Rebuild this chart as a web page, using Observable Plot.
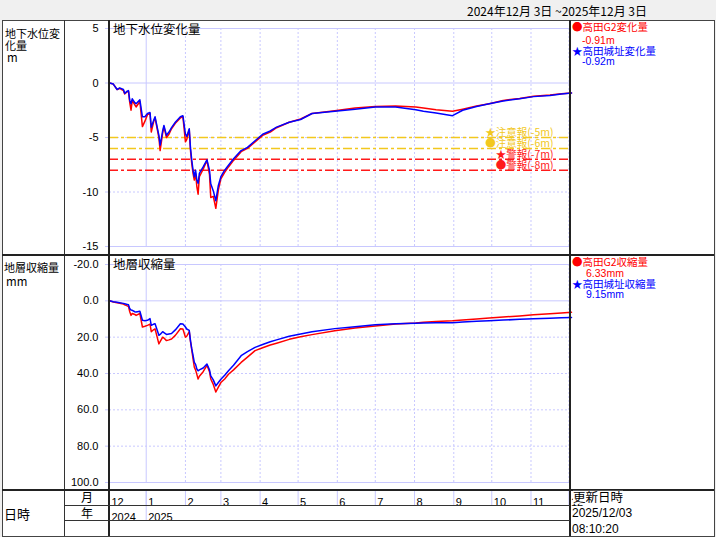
<!DOCTYPE html>
<html><head><meta charset="utf-8">
<script src="https://cdn.jsdelivr.net/npm/d3@7"></script>
<script src="https://cdn.jsdelivr.net/npm/@observablehq/plot@0.6"></script>
<style>
body{margin:0;background:#f0f0f0;}
#root{position:relative;width:716px;height:537px;background:#f0f0f0;font-family:"Noto Sans CJK JP",sans-serif;overflow:hidden;}
.box{position:absolute;left:2px;top:20px;width:711px;height:515px;background:#fff;border:1px solid #444;}
.t{position:absolute;white-space:nowrap;line-height:1;transform:translateY(-50%);}
.ln{position:absolute;background:#222;}
.p{position:absolute;}
</style></head><body><div id="root"><div class="box"></div></div>
<script>
// ---------- data ----------
const periodStart = "2024-12-03";
const periodEnd = "2025-12-03";
const obsDates = ["2024-12-03","2024-12-06","2024-12-09","2024-12-11","2024-12-14","2024-12-15","2024-12-17","2024-12-18","2024-12-19","2024-12-20",
"2024-12-21","2024-12-23","2024-12-24","2024-12-27","2024-12-29","2024-12-31","2025-01-02","2025-01-04","2025-01-05","2025-01-07",
"2025-01-08","2025-01-11","2025-01-12","2025-01-14","2025-01-15","2025-01-17","2025-01-19","2025-01-21","2025-01-24","2025-01-28",
"2025-01-30","2025-02-01","2025-02-02","2025-02-04","2025-02-05","2025-02-06","2025-02-07","2025-02-08","2025-02-09","2025-02-10",
"2025-02-11","2025-02-12","2025-02-15","2025-02-18","2025-02-20","2025-02-21","2025-02-23","2025-02-25","2025-02-27","2025-03-01",
"2025-03-04","2025-03-07","2025-03-11","2025-03-17","2025-03-22","2025-03-28","2025-04-03","2025-04-09","2025-04-14","2025-04-24",
"2025-05-03","2025-05-12","2025-05-30","2025-06-15","2025-07-01","2025-07-17","2025-08-02","2025-08-08","2025-08-18","2025-08-31",
"2025-09-08","2025-09-19","2025-09-29","2025-10-10","2025-10-23","2025-11-03","2025-11-16","2025-11-25","2025-12-03"];
// 高田G2 変化量 (m)
const g2Level = [0,-0.1,-0.6,-0.5,-0.7,-1.0,-0.8,-0.75,-1.8,-2.5,
-1.6,-2.0,-2.2,-1.7,-4.0,-3.5,-2.9,-2.8,-4.5,-3.5,
-3.2,-5.0,-6.2,-4.6,-4.0,-5.0,-4.7,-4.2,-3.7,-3.2,
-3.1,-5.4,-5.2,-4.3,-6.2,-7.4,-8.3,-8.9,-8.3,-9.5,
-10.2,-8.6,-7.9,-7.1,-8.4,-10.5,-10.4,-11.5,-9.8,-8.8,
-8.2,-7.7,-7.1,-6.3,-6.0,-5.4,-4.8,-4.5,-4.1,-3.6,
-3.3,-2.8,-2.55,-2.3,-2.15,-2.1,-2.2,-2.3,-2.45,-2.6,
-2.4,-2.1,-1.9,-1.6,-1.42,-1.22,-1.1,-0.98,-0.91];
// 高田城址 変化量 (m)
const castleLevel = [0,-0.1,-0.6,-0.45,-0.6,-0.95,-0.75,-0.7,-1.6,-1.9,
-1.45,-1.8,-1.9,-1.55,-3.1,-3.1,-2.8,-2.7,-4.05,-3.4,
-3.1,-4.8,-5.7,-4.4,-3.9,-4.8,-4.5,-4.1,-3.6,-3.1,
-3.0,-4.7,-4.9,-4.2,-6.0,-7.1,-8.0,-8.6,-8.0,-8.9,
-9.2,-8.3,-7.7,-7.05,-8.0,-9.25,-9.9,-10.8,-9.4,-8.6,
-8.0,-7.55,-6.95,-6.2,-5.9,-5.3,-4.7,-4.4,-4.05,-3.6,
-3.35,-2.8,-2.6,-2.4,-2.2,-2.2,-2.45,-2.6,-2.75,-3.0,
-2.5,-2.15,-1.9,-1.65,-1.45,-1.25,-1.15,-1.0,-0.92];
// 高田G2 収縮量 (mm)
const g2Shrink = [0,0.6,1.0,1.3,1.8,2.2,2.8,3.0,6.0,8.0,
7.0,7.5,8.0,7.0,14.4,14.0,13.5,12.8,17.0,15.8,
15.4,23.7,22.5,20.0,20.5,21.9,21.5,21.0,19.0,15.4,
15.5,20.0,19.5,17.0,22.5,27.0,32.0,36.5,38.0,40.5,
43.0,41.5,39.0,35.5,39.0,43.0,46.0,50.2,47.5,45.0,
43.0,40.4,38.0,33.9,31.0,27.4,25.8,24.3,23.3,21.2,
19.8,18.6,16.5,15.0,13.8,12.8,12.2,11.8,11.4,11.0,
10.6,10.0,9.5,8.9,8.3,7.7,7.1,6.7,6.33];
// 高田城址 収縮量 (mm)
const castleShrink = [0,0.5,0.8,1.0,1.4,1.6,2.0,2.2,4.3,5.0,
5.2,6.0,6.2,5.7,10.7,10.9,10.7,9.8,13.5,12.8,
12.6,19.0,18.5,17.0,17.5,18.5,18.2,18.0,16.0,12.6,
12.8,14.4,15.5,16.3,22.0,26.5,30.0,33.9,35.0,37.5,
38.5,38.0,37.0,34.8,38.0,41.3,43.5,46.8,45.0,43.2,
41.0,38.5,35.5,30.2,28.0,25.6,24.0,22.5,21.5,19.5,
18.2,17.0,15.3,14.2,13.2,12.6,12.3,12.2,12.1,12.0,
11.7,11.3,11.0,10.6,10.2,9.9,9.6,9.3,9.15];

const levelTicks = [5, 0, -5, -10, -15];
const shrinkTicks = [-20, 0, 20, 40, 60, 80, 100];
const alertValues = [-5, -6, -7, -8];
const alertLabels = ["★注意報(-5m)", "●注意報(-6m)", "★警報(-7m)", "●警報(-8m)"];
const alertColors = ["#f2c81e", "#f2c81e", "#ff1a1a", "#ff1a1a"];

const monthTickDates = ["2024-12-03","2025-01-01","2025-02-01","2025-03-01","2025-04-01","2025-05-01","2025-06-01",
"2025-07-01","2025-08-01","2025-09-01","2025-10-01","2025-11-01","2025-12-01"];
const monthLabels = ["12","1","2","3","4","5","6","7","8","9","10","11","12"];
const yearTickDates = ["2024-12-03","2025-01-01"];
const yearLabels = ["2024","2025"];

const levelLegend = ["●高田G2変化量", "★高田城址変化量"];
const levelLatest = ["-0.91m", "-0.92m"];
const shrinkLegend = ["●高田G2収縮量", "★高田城址収縮量"];
const shrinkLatest = ["6.33mm", "9.15mm"];
const headerText = "2024年12月 3日 ~2025年12月 3日";
const updatedLabel = ["更新日時", "2025/12/03", "08:10:20"];

// ---------- build ----------
const parse = d3.utcParse("%Y-%m-%d");
const rows = obsDates.map((d, i) => ({date: parse(d), g2Level: g2Level[i], castleLevel: castleLevel[i], g2Shrink: g2Shrink[i], castleShrink: castleShrink[i]}));
const xDomain = [parse(periodStart), parse(periodEnd)];
const gridColor = "#c8c8ff";
const RED = "#ff0000", BLUE = "#0000ff";
const months = monthTickDates.map((d, i) => ({date: parse(d), label: monthLabels[i]}));
const gridMonths = months.slice(1);
const janMonths = gridMonths.filter(m => m.date.getUTCMonth() === 0);
const otherMonths = gridMonths.filter(m => m.date.getUTCMonth() !== 0);
const years = yearTickDates.map((d, i) => ({date: parse(d), label: yearLabels[i]}));
const alerts = alertValues.map((v, i) => ({v, label: alertLabels[i], color: alertColors[i]}));

const baseStyle = {background: "transparent", overflow: "visible", fontFamily: "Liberation Sans, sans-serif", fontSize: "11px", color: "#000"};

function panel({ticks, domain, fmt, keys, marginTop, marginBottom, extra}) {
  const solid = v => v === 0 || v === ticks[0] || v === ticks[ticks.length - 1];
  return Plot.plot({
    width: 571, height: 235, marginLeft: 109, marginRight: 0, marginTop, marginBottom,
    x: {type: "utc", domain: xDomain, axis: null},
    y: {domain},
    style: baseStyle,
    marks: [
      Plot.ruleY(ticks.filter(solid), {stroke: gridColor}),
      Plot.ruleY(ticks.filter(v => !solid(v)), {stroke: gridColor, strokeDasharray: "2,2"}),
      Plot.ruleX(janMonths, {x: "date", stroke: gridColor}),
      Plot.ruleX(otherMonths, {x: "date", stroke: gridColor, strokeDasharray: "2,2"}),
      ...extra,
      Plot.line(rows, {x: "date", y: keys[0], stroke: RED, strokeWidth: 1.5}),
      Plot.line(rows, {x: "date", y: keys[1], stroke: BLUE, strokeWidth: 1.5}),
      Plot.axisY(ticks, {anchor: "left", tickSize: 4, tickPadding: 7, stroke: gridColor, fill: "#000", tickFormat: fmt, fontSize: 11})
    ]
  });
}

const alertMarks = [
  ...alerts.map(a => Plot.ruleY([a.v], {stroke: a.color, strokeWidth: 1.5, strokeDasharray: "9,3,3,3"})),
  Plot.text(alerts, {y: "v", text: "label", fill: "color", frameAnchor: "right", textAnchor: "end", dx: -18, dy: -5,
    fontFamily: "Noto Sans CJK JP", fontSize: 10.5})
];

const topPlot = panel({ticks: levelTicks, domain: [-15, 5], fmt: d => String(d), keys: ["g2Level", "castleLevel"],
  marginTop: 8, marginBottom: 9, extra: alertMarks});
const botPlot = panel({ticks: shrinkTicks, domain: [100, -20], fmt: d => d.toFixed(1), keys: ["g2Shrink", "castleShrink"],
  marginTop: 9, marginBottom: 8, extra: []});

const datePlot = Plot.plot({
  width: 571, height: 46, marginLeft: 109, marginRight: 0, marginTop: 0, marginBottom: 0,
  x: {type: "utc", domain: xDomain, axis: null},
  style: baseStyle,
  marks: [
    Plot.ruleX(gridMonths, {x: "date", stroke: gridColor, insetBottom: 31}),
    Plot.ruleX(janMonths, {x: "date", stroke: gridColor, insetBottom: 16}),
    Plot.text(months, {x: "date", text: "label", frameAnchor: "top", dy: 8, dx: 2, textAnchor: "start", fontSize: 11}),
    Plot.text(years, {x: "date", text: "label", frameAnchor: "top", dy: 23, dx: 2, textAnchor: "start", fontSize: 11})
  ]
});

const root = document.getElementById("root");
function place(el, x, y) { el.classList.add("p"); el.style.left = x + "px"; el.style.top = y + "px"; root.appendChild(el); }
place(topPlot, 0, 20);
place(botPlot, 0, 255);
place(datePlot, 0, 490);

function line(x, y, w, h, c) { const d = document.createElement("div"); d.className = "ln"; Object.assign(d.style, {left: x + "px", top: y + "px", width: w + "px", height: h + "px"}); if (c) d.style.background = c; root.appendChild(d); }
line(64, 20, 1, 516, "#333");
line(108, 20, 2, 516);
line(569, 20, 2, 516);
line(2, 254, 712, 2);
line(2, 489, 712, 2);
line(64, 505, 506, 1, "#333");
line(64, 520, 506, 1, "#333");

function txt(s, x, y, o = {}) {
  const d = document.createElement("div"); d.className = "t"; d.textContent = s;
  Object.assign(d.style, {left: x + "px", top: y + "px", fontSize: (o.size || 12) + "px", color: o.color || "#000",
    fontFamily: o.font || '"Noto Sans CJK JP", sans-serif'});
  if (o.center) d.style.transform = "translate(-50%,-50%)";
  if (o.bg) d.style.background = o.bg;
  root.appendChild(d); return d;
}
txt(headerText, 557, 11, {size: 12, center: true});
txt("地下水位変", 5, 33, {size: 11});
txt("化量", 5, 45, {size: 11});
txt("m", 7, 58, {size: 11.5});
txt("地層収縮量", 4, 267, {size: 11});
txt("mm", 6, 282, {size: 11.5});
txt("地下水位変化量", 113, 29, {size: 12.5});
txt("地層収縮量", 113, 264, {size: 12.5});
txt(levelLegend[0], 572, 27, {size: 10.5, color: RED});
txt(levelLatest[0], 582, 39.5, {size: 10.5, color: RED, font: "Liberation Sans"});
txt(levelLegend[1], 572, 50.5, {size: 10.5, color: BLUE});
txt(levelLatest[1], 582, 61, {size: 10.5, color: BLUE, font: "Liberation Sans"});
txt(shrinkLegend[0], 572, 261.5, {size: 10.5, color: RED});
txt(shrinkLatest[0], 586, 272.5, {size: 10.5, color: RED, font: "Liberation Sans"});
txt(shrinkLegend[1], 572, 283.5, {size: 10.5, color: BLUE});
txt(shrinkLatest[1], 586, 294, {size: 10.5, color: BLUE, font: "Liberation Sans"});
txt("日時", 4, 513, {size: 13});
txt("月", 87, 497, {size: 12, center: true});
txt("年", 87, 512.5, {size: 12, center: true});
txt(updatedLabel[0], 573, 497, {size: 12.5, bg: "#fff"});
txt(updatedLabel[1], 572, 513, {size: 12, font: "Liberation Sans"});
txt(updatedLabel[2], 572, 529, {size: 12, font: "Liberation Sans"});
</script></body></html>
